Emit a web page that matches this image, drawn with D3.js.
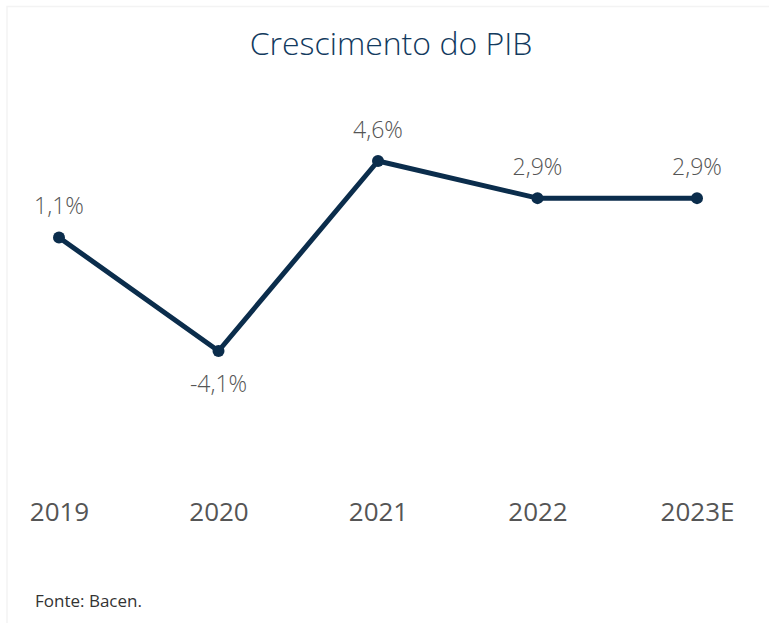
<!DOCTYPE html>
<html>
<head>
<meta charset="utf-8">
<script src="https://cdn.jsdelivr.net/npm/d3@7"></script>
<style>
  body { margin: 0; background: #fff; }
  svg { display: block; font-family: "Open Sans", sans-serif; }
</style>
</head>
<body>
<svg id="chart" width="769" height="623"></svg>
<script>
var years = ["2019", "2020", "2021", "2022", "2023E"];
var growth = [1.1, -4.1, 4.6, 2.9, 2.9];
var valueLabels = ["1,1%", "-4,1%", "4,6%", "2,9%", "2,9%"];

function drawChart() {
    var svg = d3.select("#chart");

    // faint frame around the panel
    svg.append("path")
        .attr("d", "M7,623 V6.5 H769")
        .attr("fill", "none")
        .attr("stroke", "#f3f3f3")
        .attr("stroke-width", 1.5);

    svg.append("text")
        .attr("x", 391)
        .attr("y", 55)
        .attr("text-anchor", "middle")
        .attr("font-size", 32)
        .attr("font-weight", 300)
        .attr("fill", "#123a5e")
        .text("Crescimento do PIB");

    var x = d3.scalePoint().domain(years).range([59, 697]);
    var y = d3.scaleLinear().domain([-4.1, 4.6]).range([351, 161]);

    var data = years.map((d, i) => ({year: d, value: growth[i], label: valueLabels[i]}));

    var line = d3.line()
        .x(d => x(d.year))
        .y(d => y(d.value));

    svg.append("path")
        .datum(data)
        .attr("d", line)
        .attr("fill", "none")
        .attr("stroke", "#0b2d4c")
        .attr("stroke-width", 5)
        .attr("stroke-linejoin", "round");

    svg.selectAll(".dot")
        .data(data)
        .enter()
        .append("circle")
        .attr("class", "dot")
        .attr("cx", d => x(d.year))
        .attr("cy", d => y(d.value))
        .attr("r", 6)
        .attr("fill", "#0b2d4c");

    svg.selectAll(".vlabel")
        .data(data)
        .enter()
        .append("text")
        .attr("class", "vlabel")
        .attr("x", d => x(d.year))
        .attr("y", d => d.value < 0 ? y(d.value) + 41 : y(d.value) - 23)
        .attr("text-anchor", "middle")
        .attr("font-size", 23)
        .attr("font-weight", 300)
        .attr("fill", "#555")
        .text(d => d.label);

    var axis = d3.axisBottom(x).tickSize(0).tickPadding(0);
    var gx = svg.append("g")
        .attr("transform", "translate(0,496)")
        .call(axis);
    gx.select(".domain").remove();
    gx.selectAll("text")
        .attr("font-size", 26)
        .attr("font-family", "Open Sans, sans-serif")
        .attr("fill", "#555")
        .attr("dy", "0.95em");

    svg.append("text")
        .attr("x", 35)
        .attr("y", 607)
        .attr("font-size", 17)
        .attr("fill", "#333")
        .text("Fonte: Bacen.");
}

drawChart();
</script>
</body>
</html>
